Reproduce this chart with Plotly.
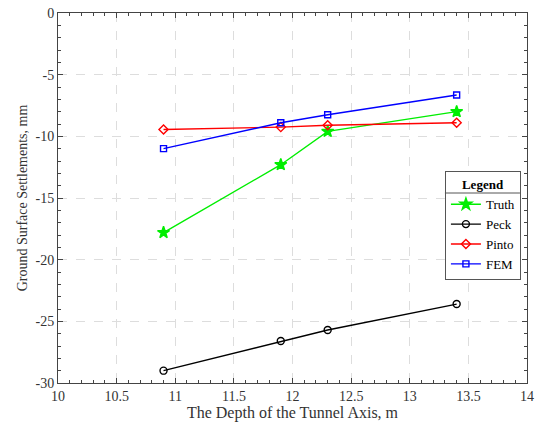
import plotly.graph_objects as go

depth = [10.9, 11.9, 12.3, 13.4]
truth = [-17.8, -12.3, -9.6, -8.0]
peck = [-29.0, -26.6, -25.7, -23.6]
pinto = [-9.45, -9.25, -9.1, -8.9]
fem = [-11.0, -8.9, -8.25, -6.65]

ytick_vals = [0, -5, -10, -15, -20, -25, -30]
ytick_text = ["0", "-5", "-10", "-15", "-20", "-25", "-30"]

series = [
    ("Truth", truth, "#00ee00", "star", 9),
    ("Peck", peck, "black", "circle-open", 7),
    ("Pinto", pinto, "red", "diamond-open", 7),
    ("FEM", fem, "blue", "square-open", 6),
]

fig = go.Figure()
for name, vals, color, sym, size in series:
    fig.add_trace(go.Scatter(
        x=depth, y=vals, name=name, mode="lines+markers",
        line=dict(color=color, width=1.4),
        marker=dict(symbol=sym, size=size, color=color, line=dict(color=color, width=1.4)),
    ))

font = "Liberation Serif, Times New Roman, serif"
axis_common = dict(
    showline=True, linecolor="#444", linewidth=1, mirror="ticks",
    ticks="inside", ticklen=5, tickcolor="#444",
    showgrid=True, gridcolor="#dddddd", griddash="dash", gridwidth=1,
    zeroline=False, automargin=False,
    tickfont=dict(family=font, size=14, color="#333"),
)

fig.update_xaxes(
    range=[10, 14], dtick=0.5, tick0=10,
    minor=dict(ticks="inside", ticklen=3, dtick=0.1, tickcolor="#444", showgrid=False),
    title_text="The Depth of the Tunnel Axis, m", title_standoff=2,
    title_font=dict(family=font, size=16, color="#333"),
    **axis_common,
)
fig.update_yaxes(
    range=[-30, 0], tickmode="array", tickvals=ytick_vals, ticktext=ytick_text,
    minor=dict(ticks="inside", ticklen=3, dtick=1, tickcolor="#444", showgrid=False),
    title_text="Ground Surface Settlements, mm", title_standoff=4,
    title_font=dict(family=font, size=14, color="#333"),
    **axis_common,
)

lx0, ly0 = 0.825, 0.572
fig.update_layout(
    width=542, height=426,
    margin=dict(l=58, r=15, t=13, b=43),
    plot_bgcolor="white", paper_bgcolor="white",
    font=dict(family=font, size=14, color="#333"),
    legend=dict(
        x=lx0, y=ly0, xanchor="left", yanchor="top",
        bordercolor="#555", borderwidth=1, bgcolor="rgba(0,0,0,0)",
        title=dict(text="<b>Legend</b>", side="top center", font=dict(family=font, size=13, color="black")),
        font=dict(family=font, size=13, color="black"),
        itemwidth=30, tracegroupgap=0,
    ),
    shapes=[
        dict(type="rect", xref="paper", yref="paper", x0=lx0, x1=0.985,
             y0=0.28, y1=ly0, fillcolor="white", line=dict(width=0), layer="above"),
        dict(type="line", xref="paper", yref="paper", x0=lx0, x1=0.985,
             y0=0.5135, y1=0.5135, line=dict(color="#555", width=1), layer="above"),
    ],
)

fig.write_html("out.html")
